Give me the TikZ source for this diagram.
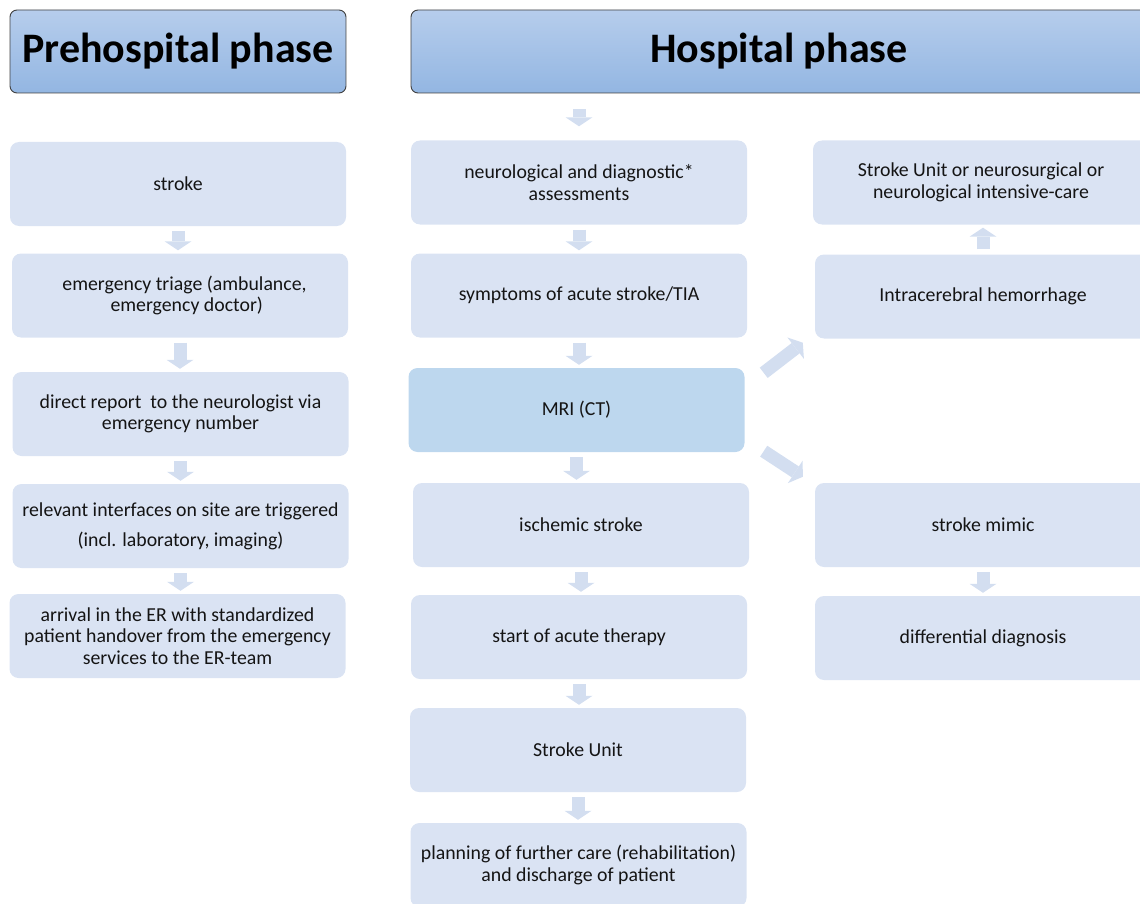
\documentclass[tikz,border=0pt]{standalone}
\usepackage{fontspec}
\setmainfont{Carlito}
\usetikzlibrary{arrows.meta,positioning}

\definecolor{boxfill}{HTML}{DAE3F3}
\definecolor{mrifill}{HTML}{BDD7EE}
\definecolor{arrowfill}{HTML}{D3DEF0}
\definecolor{headtop}{HTML}{B6CDEC}
\definecolor{headbottom}{HTML}{93B6E2}
\definecolor{headline}{HTML}{404040}
\definecolor{txtgray}{HTML}{141414}

\begin{document}
\begin{tikzpicture}[x=1pt, y=-1pt,
  phase/.style={draw=headline, line width=0.9pt, rounded corners=7pt, top color=headtop, bottom color=headbottom, minimum height=83pt, font=\fontsize{42}{46}\selectfont\bfseries},
  stepbox/.style={fill=boxfill, rounded corners=9pt, minimum width=336pt, minimum height=84pt, align=center, text=txtgray, inner sep=0pt, font=\fontsize{19.8}{21.5}\selectfont},
  flow/.style={draw=arrowfill, line width=13pt, -{Triangle[length=9pt, width=27pt, line width=0pt]}, shorten <=5pt, shorten >=3pt}]

  \useasboundingbox (0,0) rectangle (1140,904);
  \clip (0,0) rectangle (1140,904);

  % phase headers
  \node[phase, minimum width=336pt] (pre) at (178,51.5) {Prehospital phase};
  \node[phase, minimum width=736pt] (hosp) at (779,51.5) {Hospital phase};

  % prehospital column
  \node[stepbox] (stroke) at (178,184) {stroke};
  \node[stepbox] (triage) at (180,295.5) {\ \ emergency triage (ambulance,\\ \ \ \ emergency doctor)};
  \node[stepbox] (report) at (180.5,414) {direct report\ \ to the neurologist via\\ emergency number};
  \node[stepbox, font=\fontsize{19.8}{30}\selectfont] (iface) at (180.5,526) {relevant interfaces on site are triggered\\ (incl. laboratory, imaging)};
  \node[stepbox] (arrival) at (177.5,636) {arrival in the ER with standardized\\ patient handover\ from the emergency\\ services to the ER-team};

  % hospital column
  \node[stepbox] (assess) at (579,182.5) {neurological and diagnostic*\\ assessments};
  \node[stepbox] (sympt) at (579,295.5) {symptoms of acute stroke/TIA};
  \node[stepbox, fill=mrifill] (mri) at (576.5,410) {MRI (CT)};
  \node[stepbox] (isch) at (581,525) {ischemic stroke};
  \node[stepbox] (therapy) at (579,637) {start of acute therapy};
  \node[stepbox] (unit) at (578,750) {Stroke Unit};
  \node[stepbox] (plan) at (578.5,865) {planning of further care (rehabilitation)\\ and discharge of patient};

  % right branch
  \node[stepbox] (icu) at (981,182.5) {Stroke Unit or neurosurgical or\\ neurological intensive-care};
  \node[stepbox] (ich) at (983,296.5) {Intracerebral hemorrhage};
  \node[stepbox] (mimic) at (983,525) {stroke mimic};
  \node[stepbox] (diff) at (983,638) {differential diagnosis};

  % arrows
  \draw[flow] (stroke.south) -- (stroke.south |- triage.north);
  \draw[flow] (triage.south) -- (triage.south |- report.north);
  \draw[flow] (report.south) -- (report.south |- iface.north);
  \draw[flow] (iface.south) -- (iface.south |- arrival.north);

  \draw[flow, shorten <=16pt, shorten >=14pt] (hosp.south -| assess.north) -- (assess.north);
  \draw[flow] (assess.south) -- (assess.south |- sympt.north);
  \draw[flow] (sympt.south) -- (sympt.south |- mri.north);
  \draw[flow] (mri.south) -- (mri.south |- isch.north);
  \draw[flow] (isch.south) -- (isch.south |- therapy.north);
  \draw[flow] (therapy.south) -- (therapy.south |- unit.north);
  \draw[flow] (unit.south) -- (unit.south |- plan.north);

  \draw[flow, shorten <=0pt, shorten >=0pt] ([shift={(19,5)}]mri.north east) -- ([shift={(-12,4)}]ich.south west);
  \draw[flow, shorten <=0pt, shorten >=0pt] ([shift={(19,-1)}]mri.south east) -- ([shift={(-12,-6)}]mimic.north west);
  \draw[flow] (ich.north) -- (ich.north |- icu.south);
  \draw[flow] (mimic.south) -- (mimic.south |- diff.north);
\end{tikzpicture}
\end{document}
